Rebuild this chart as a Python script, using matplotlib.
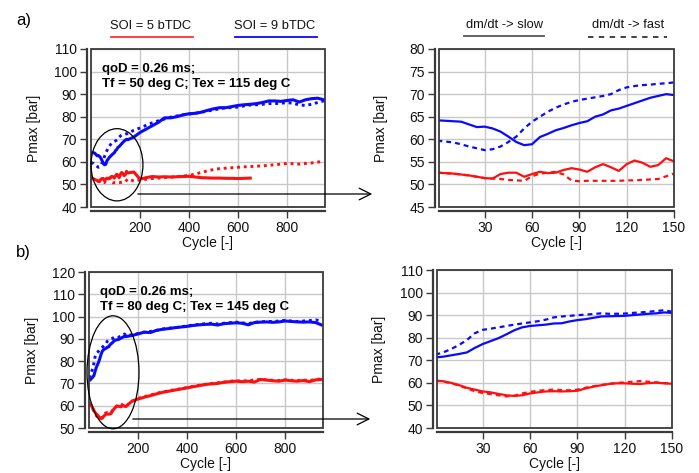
import numpy as np
import matplotlib
matplotlib.use("Agg")
import matplotlib.pyplot as plt
from matplotlib.patches import Ellipse, Rectangle, FancyArrowPatch
from matplotlib.lines import Line2D

plt.rcParams['font.family'] = ['Liberation Sans', 'DejaVu Sans']

# ---------------- data ----------------
x_zoom = list(range(0, 151, 5))
x_long = list(range(175, 951, 25))

# panel a (zoom, cycles 0..150)
a_blue_solid_zoom = [64.2, 64.1, 64.0, 63.9, 63.3, 62.7, 62.8, 62.4, 61.7, 60.6, 59.4, 58.7, 58.9, 60.5, 61.2, 62.0,
                     62.5, 63.1, 63.6, 64.0, 65.0, 65.5, 66.4, 66.8, 67.4, 68.0, 68.6, 69.2, 69.6, 70.0, 69.8]
a_blue_dash_zoom = [59.7, 59.5, 59.3, 58.9, 58.4, 58.0, 57.6, 57.8, 58.4, 59.4, 60.6, 62.4, 63.9, 65.0, 66.1, 67.0,
                    67.7, 68.3, 68.7, 69.0, 69.3, 69.6, 70.0, 70.9, 71.5, 71.8, 72.0, 72.1, 72.3, 72.4, 72.6]
a_red_solid_zoom = [52.6, 52.5, 52.4, 52.2, 52.0, 51.7, 51.4, 51.3, 52.3, 52.6, 52.6, 51.7, 52.3, 52.8, 52.5, 52.6,
                    53.2, 53.6, 53.3, 52.8, 53.8, 54.5, 53.8, 53.0, 54.5, 55.3, 54.8, 53.9, 54.3, 55.8, 55.1]
a_red_dash_zoom = [52.6, 52.5, 52.4, 52.2, 52.0, 51.7, 51.4, 51.3, 51.2, 51.0, 50.9, 50.8, 51.8, 52.4, 52.6, 52.8,
                   52.2, 50.9, 50.7, 50.8, 50.8, 50.8, 50.8, 50.8, 50.9, 50.9, 51.0, 51.1, 51.2, 51.8, 52.4]

# panel a (full run, cycles 175..950)
a_blue_solid_long = [71.0, 73.0, 74.5, 76.0, 77.5, 79.5, 79.5, 80.0, 80.8, 81.3, 81.5, 82.0, 82.8, 83.5, 84.0, 84.0,
                     84.5, 85.0, 85.3, 85.5, 85.8, 86.3, 87.0, 87.0, 86.8, 87.2, 87.5, 86.5, 87.5, 88.0, 88.2, 87.5]
a_blue_dash_long = [74.0, 75.0, 76.2, 77.3, 78.2, 79.0, 79.8, 80.3, 80.8, 81.2, 81.5, 82.0, 82.5, 83.0, 83.5, 84.0,
                    84.0, 84.3, 84.8, 85.2, 85.3, 85.5, 85.8, 85.8, 86.0, 86.2, 86.0, 85.2, 85.0, 85.5, 86.3, 87.0]
a_red_solid_long = [55.5, 52.3, 53.0, 53.5, 53.3, 53.4, 53.3, 53.4, 53.5, 53.6, 53.3, 53.0, 52.9, 52.8, 52.8, 52.7,
                    52.7, 52.6, 52.7, 52.8, np.nan, np.nan, np.nan, np.nan, np.nan, np.nan, np.nan, np.nan, np.nan,
                    np.nan, np.nan, np.nan]
a_red_dash_long = [51.5, 52.0, 52.3, 52.6, 52.8, 53.0, 53.2, 53.4, 53.7, 54.0, 54.6, 55.3, 56.0, 56.6, 57.0, 57.2,
                   57.4, 57.6, 57.8, 57.9, 58.1, 58.2, 58.5, 58.7, 59.0, 59.3, 59.2, 59.0, 59.3, 59.5, 59.9, 60.2]

# panel b (zoom, cycles 0..150)
b_blue_solid_zoom = [71.3, 71.6, 72.2, 72.8, 73.5, 75.5, 77.2, 78.5, 79.8, 81.5, 83.3, 84.6, 85.2, 85.5, 85.8, 86.3,
                     86.4, 87.2, 87.8, 88.2, 88.8, 89.4, 89.5, 89.6, 89.7, 90.0, 90.3, 90.6, 90.8, 91.2, 91.0]
b_blue_dash_zoom = [72.5, 73.5, 75.0, 76.8, 79.0, 82.0, 83.5, 84.0, 84.6, 85.2, 85.8, 86.3, 86.8, 87.3, 88.0, 89.0,
                    89.4, 89.7, 90.0, 90.2, 90.5, 90.8, 90.6, 90.6, 90.7, 91.0, 91.2, 91.5, 91.8, 92.2, 91.5]
b_red_solid_zoom = [61.0, 60.7, 60.0, 59.0, 57.8, 57.0, 56.2, 55.8, 55.1, 54.5, 54.2, 54.5, 55.3, 55.8, 56.2, 56.3,
                    56.2, 56.3, 56.5, 57.5, 58.3, 58.9, 59.5, 59.8, 59.8, 59.6, 59.5, 59.9, 60.1, 59.8, 59.6]
b_red_dash_zoom = [61.0, 60.6, 59.8, 58.8, 57.5, 56.3, 55.5, 55.0, 54.5, 54.0, 54.3, 55.3, 56.0, 56.5, 56.8, 57.0,
                   56.8, 56.7, 57.0, 57.8, 58.5, 59.0, 59.6, 60.0, 60.2, 60.5, 60.8, 60.5, 60.2, 59.9, 59.8]

# panel b (full run, cycles 175..950)
b_blue_solid_long = [91.5, 92.2, 93.0, 92.8, 93.8, 94.3, 94.6, 95.0, 95.3, 95.6, 96.0, 96.3, 96.5, 96.6, 96.2, 96.8,
                     97.0, 97.2, 97.0, 96.3, 97.3, 97.5, 97.6, 97.4, 97.6, 98.0, 97.8, 97.6, 97.5, 97.6, 97.3, 96.2]
b_blue_dash_long = [91.8, 92.4, 93.0, 93.3, 93.8, 94.4, 94.8, 95.0, 95.4, 95.8, 96.2, 96.5, 96.8, 97.0, 96.7, 97.0,
                    97.3, 97.5, 97.2, 96.8, 97.5, 97.6, 97.8, 97.8, 98.0, 98.3, 98.0, 97.8, 98.0, 98.2, 98.5, 98.0]
b_red_solid_long = [62.0, 63.0, 63.8, 64.5, 65.3, 66.0, 66.5, 67.0, 67.5, 68.0, 68.5, 69.0, 69.5, 69.8, 70.0, 70.5,
                    70.8, 71.0, 70.8, 71.0, 70.6, 71.8, 71.5, 71.2, 71.0, 71.5, 71.2, 71.0, 71.3, 70.8, 71.6, 71.8]
b_red_dash_long = [62.0, 63.3, 64.0, 64.8, 65.5, 66.2, 66.7, 67.2, 67.6, 68.2, 68.7, 69.2, 69.6, 70.0, 70.3, 70.6,
                   71.0, 71.2, 71.0, 71.3, 71.5, 71.8, 71.6, 71.4, 71.3, 71.6, 71.4, 71.3, 71.5, 71.3, 71.8, 72.0]

legend_soi = ["SOI = 5 bTDC", "SOI = 9 bTDC"]
legend_dm = ["dm/dt -> slow", "dm/dt -> fast"]
note_a = "qoD = 0.26 ms;\nTf = 50 deg C; Tex = 115 deg C"
note_b = "qoD = 0.26 ms;\nTf = 80 deg C; Tex = 145 deg C"

# ---------------- figure ----------------
W, H = 699, 473
fig = plt.figure(figsize=(W / 100, H / 100), dpi=100)

def fx(px):
    return px / W

def fy(py):
    return 1 - py / H

def make_ax(x0, y0, x1, y1):
    return fig.add_axes([fx(x0), fy(y1), fx(x1) - fx(x0), fy(y0) - fy(y1)])

AXC = '#3a3a3a'
FS = 10

def style(ax, xlim, ylim, xticks, yticks):
    ax.set_xlim(*xlim)
    ax.set_ylim(*ylim)
    ax.set_xticks(xticks)
    ax.set_yticks(yticks)
    ax.grid(True, color='#c8c8c8', lw=1.0)
    ax.set_axisbelow(True)
    for s in ['top', 'right']:
        ax.spines[s].set_visible(False)
    for s in ['left', 'bottom']:
        ax.spines[s].set_position(('outward', 3))
        ax.spines[s].set_linewidth(1.6)
        ax.spines[s].set_color(AXC)
    ax.add_patch(Rectangle((0, 0), 1, 1, transform=ax.transAxes, fill=False,
                           edgecolor=AXC, lw=1.3, clip_on=False, zorder=5))
    ax.tick_params(direction='out', length=5, width=1.0, color=AXC, pad=2,
                   labelsize=FS, labelcolor='#111111')
    ax.set_xlabel("Cycle [-]", fontsize=FS, labelpad=1, color='#111111')
    ax.set_ylabel("Pmax [bar]", fontsize=FS, color='#111111')
    ax.yaxis.set_label_coords(-0.215, 0.5)

BLUE = '#0a0aff'
RED = '#ff1010'
DOT = (0, (1.0, 1.3))
DASH = (0, (2.2, 1.8))

def draw_left(ax, bs, bd, rs, rd):
    xs = x_zoom + x_long
    ax.plot(xs, rd, color=RED, lw=2.1, ls=DOT)
    ax.plot(xs, rs, color=RED, lw=2.2)
    ax.plot(xs, bd, color=BLUE, lw=2.1, ls=DOT)
    ax.plot(xs, bs, color=BLUE, lw=2.2)

def draw_right(ax, bs, bd, rs, rd):
    ax.plot(x_zoom, rd, color=RED, lw=1.6, ls=DASH)
    ax.plot(x_zoom, rs, color=RED, lw=1.6)
    ax.plot(x_zoom, bd, color=BLUE, lw=1.6, ls=DASH)
    ax.plot(x_zoom, bs, color=BLUE, lw=1.6)

# panel a
axA = make_ax(91, 49, 325, 207)
style(axA, (0, 955), (40, 110), [200, 400, 600, 800], list(range(40, 111, 10)))
draw_left(axA, a_blue_solid_zoom + a_blue_solid_long, a_blue_dash_zoom + a_blue_dash_long,
          a_red_solid_zoom + a_red_solid_long, a_red_dash_zoom + a_red_dash_long)
axA.add_patch(Ellipse((106, 58.7), 212, 32, fill=False, ec='black', lw=0.9, clip_on=False, zorder=6))
axA.text(0.045, 0.91, note_a, transform=axA.transAxes, fontsize=9.5, fontweight='bold',
         va='top', ha='left', linespacing=1.35)

axA2 = make_ax(439, 49, 674, 207)
style(axA2, (1, 150), (45, 80), [30, 60, 90, 120, 150], list(range(45, 81, 5)))
draw_right(axA2, a_blue_solid_zoom, a_blue_dash_zoom, a_red_solid_zoom, a_red_dash_zoom)

# panel b
axB = make_ax(89, 272, 323, 428)
style(axB, (0, 955), (50, 120), [200, 400, 600, 800], list(range(50, 121, 10)))
draw_left(axB, b_blue_solid_zoom + b_blue_solid_long, b_blue_dash_zoom + b_blue_dash_long,
          b_red_solid_zoom + b_red_solid_long, b_red_dash_zoom + b_red_dash_long)
axB.add_patch(Ellipse((98, 75), 212, 50.7, fill=False, ec='black', lw=0.9, clip_on=False, zorder=6))
axB.text(0.045, 0.91, note_b, transform=axB.transAxes, fontsize=9.5, fontweight='bold',
         va='top', ha='left', linespacing=1.35)

axB2 = make_ax(437, 270, 672, 428)
style(axB2, (1, 150), (40, 110), [30, 60, 90, 120, 150], list(range(40, 111, 10)))
draw_right(axB2, b_blue_solid_zoom, b_blue_dash_zoom, b_red_solid_zoom, b_red_dash_zoom)

# panel letters
fig.text(fx(16), fy(20), "a)", fontsize=12, va='center', ha='left')
fig.text(fx(16), fy(252), "b)", fontsize=12, va='center', ha='left')

# legends
def legend_item(text, cx, ty, lx0, lx1, ly, color, ls):
    fig.text(fx(cx), fy(ty), text, fontsize=9.3, ha='center', va='center', color='#111111')
    fig.add_artist(Line2D([fx(lx0), fx(lx1)], [fy(ly), fy(ly)], transform=fig.transFigure,
                          color=color, lw=1.3, ls=ls))

legend_item(legend_soi[0], 151, 26, 111, 193, 37.5, '#ff3030', '-')
legend_item(legend_soi[1], 275, 26, 235, 317, 37.5, BLUE, '-')
legend_item(legend_dm[0], 505, 25, 464, 544, 36, '#555555', '-')
legend_item(legend_dm[1], 628, 25, 588, 667, 37, '#333333', (0, (3, 3)))

# arrows
for (x0, x1, yy) in [(135, 375, 194), (130, 373, 419)]:
    arr = FancyArrowPatch((fx(x0), fy(yy)), (fx(x1), fy(yy)), transform=fig.transFigure,
                          arrowstyle='->,head_length=0.7,head_width=0.35', mutation_scale=12,
                          color='black', lw=0.9)
    fig.add_artist(arr)

fig.savefig("out.png", dpi=100)
